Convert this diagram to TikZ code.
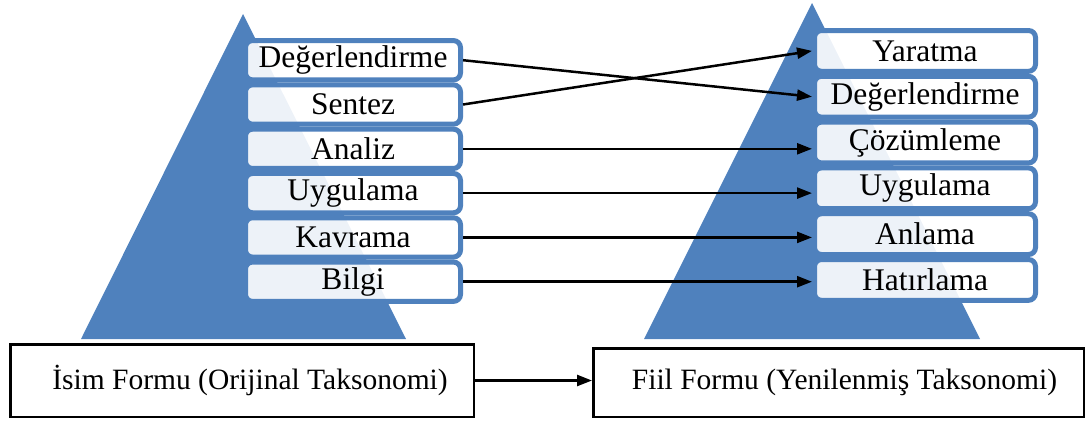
\documentclass[tikz,border=0pt]{standalone}
\usepackage{fontspec}
\setmainfont{Liberation Serif}
\usetikzlibrary{arrows.meta}
\definecolor{pyrblue}{HTML}{4F81BD}

\begin{document}
\begin{tikzpicture}[x=1pt, y=-1pt]
        \tikzstyle{level}=[draw=pyrblue, line width=5pt, fill=white, fill opacity=0.9, text opacity=1, rounded corners=7pt, inner sep=0pt, font=\fontsize{31.5}{31.5}\selectfont]
        \tikzstyle{leftlevel}=[style=level, minimum width=215pt, minimum height=39.3pt]
        \tikzstyle{rightlevel}=[style=level, minimum width=221pt, minimum height=40.8pt]
        \tikzstyle{form}=[draw, line width=2.5pt, inner sep=0pt, font=\fontsize{29.5}{29.5}\selectfont]
        \tikzstyle{arrow}=[-{Triangle[length=15pt, width=11pt]}, line width=2.5pt]

        \useasboundingbox (0,0) rectangle (1092,421);

        % pyramids
        \fill [pyrblue] (243,14) -- (81,339) -- (406,339) -- cycle;
        \fill [pyrblue] (812,3) -- (644,339) -- (980,339) -- cycle;

        % original taxonomy
        \node [style=leftlevel] (l1) at (353, 60.2) {Değerlendirme};
        \node [style=leftlevel] (l2) at (353, 104.5) {Sentez};
        \node [style=leftlevel] (l3) at (353, 148.8) {Analiz};
        \node [style=leftlevel] (l4) at (353, 193.1) {Uygulama};
        \node [style=leftlevel] (l5) at (353, 237.4) {Kavrama};
        \node [style=leftlevel] (l6) at (353, 281.7) {Bilgi};

        % revised taxonomy
        \node [style=rightlevel] (r1) at (925, 50.9) {Yaratma};
        \node [style=rightlevel] (r2) at (925, 96.7) {Değerlendirme};
        \node [style=rightlevel] (r3) at (925, 142.5) {Çözümleme};
        \node [style=rightlevel] (r4) at (925, 188.3) {Uygulama};
        \node [style=rightlevel] (r5) at (925, 234.1) {Anlama};
        \node [style=rightlevel] (r6) at (925, 279.9) {Hatırlama};

        \node [style=form, minimum width=463.5pt, minimum height=72.5pt] (isim) at (242, 380.5) {\hspace{16pt}İsim Formu (Orijinal Taksonomi)};
        \node [style=form, minimum width=490.5pt, minimum height=68.5pt] (fiil) at (838.5, 382.5) {\hspace{12pt}Fiil Formu (Yenilenmiş Taksonomi)};

        \draw [style=arrow] (l1.east) to (r2.west);
        \draw [style=arrow] (l2.east) to (r1.west);
        \draw [style=arrow] (l3.east) to (l3.east -| r3.west);
        \draw [style=arrow] (l4.east) to (l4.east -| r4.west);
        \draw [style=arrow] (l5.east) to (l5.east -| r5.west);
        \draw [style=arrow] (l6.east) to (l6.east -| r6.west);
        \draw [style=arrow] (isim.east) to (isim.east -| fiil.west);
\end{tikzpicture}
\end{document}
